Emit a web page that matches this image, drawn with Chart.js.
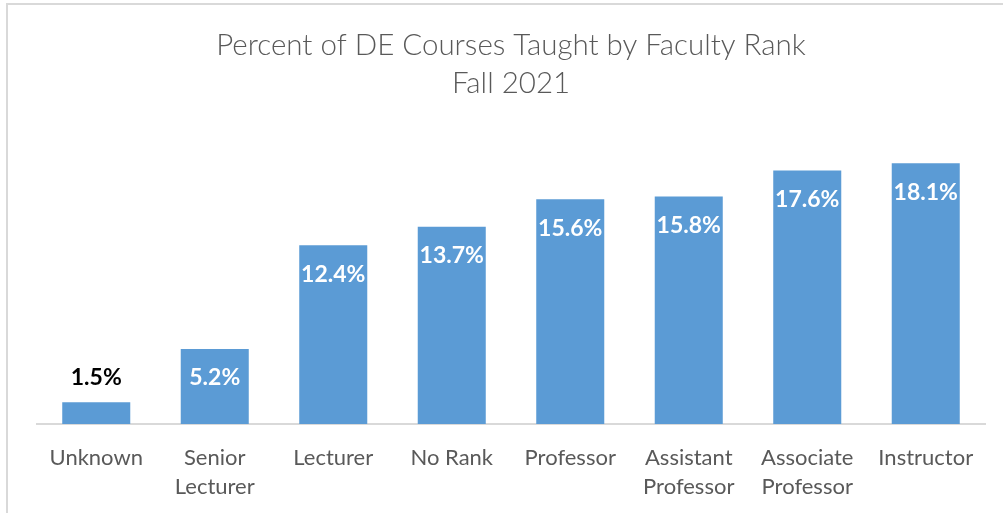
<!DOCTYPE html>
<html>
<head>
<meta charset="utf-8">
<script src="https://cdn.jsdelivr.net/npm/chart.js@4/dist/chart.umd.min.js"></script>
<style>
  html, body { margin: 0; padding: 0; background: #fff; }
  #wrap { position: relative; width: 1003px; height: 515px; }
  #frame { position: absolute; left: 6px; top: 3px; right: 0; height: 510px;
           border-top: 2px solid #D9D9D9; border-left: 2px solid #D9D9D9; box-sizing: border-box; }
  canvas { position: absolute; left: 0; top: 0; }
</style>
</head>
<body>
<div id="wrap">
  <div id="frame"></div>
  <canvas id="c" width="1003" height="515"></canvas>
</div>
<script>
const titleLines = ['Percent of DE Courses Taught by Faculty Rank', 'Fall 2021'];
const categories = [
  'Unknown',
  ['Senior', 'Lecturer'],
  'Lecturer',
  'No Rank',
  'Professor',
  ['Assistant', 'Professor'],
  ['Associate', 'Professor'],
  'Instructor'
];
const percentValues = [1.5, 5.2, 12.4, 13.7, 15.6, 15.8, 17.6, 18.1];

const FONT = 'Lato, "Open Sans", sans-serif';

const valueLabels = {
  id: 'valueLabels',
  afterDatasetsDraw(chart) {
    const ctx = chart.ctx;
    const meta = chart.getDatasetMeta(0);
    ctx.save();
    ctx.font = 'bold 23px ' + FONT;
    ctx.textAlign = 'center';
    ctx.textBaseline = 'middle';
    meta.data.forEach((bar, i) => {
      const v = chart.data.datasets[0].data[i];
      const text = v.toFixed(1) + '%';
      const h = bar.base - bar.y;
      if (h < 50) {
        ctx.fillStyle = '#000000';
        ctx.fillText(text, bar.x, bar.y - 25);
      } else {
        ctx.fillStyle = '#FFFFFF';
        ctx.fillText(text, bar.x, bar.y + 29);
      }
    });
    ctx.restore();
  }
};

new Chart(document.getElementById('c'), {
  type: 'bar',
  data: {
    labels: categories,
    datasets: [{
      data: percentValues,
      backgroundColor: '#5B9BD5',
      borderWidth: 0,
      categoryPercentage: 1.0,
      barPercentage: 0.574
    }]
  },
  options: {
    responsive: false,
    animation: false,
    devicePixelRatio: 1,
    layout: { padding: { left: 37, right: 18, top: 0, bottom: -5 } },
    plugins: {
      legend: { display: false },
      tooltip: { enabled: false },
      title: {
        display: true,
        text: titleLines,
        color: '#595959',
        font: { family: FONT, size: 29.5, weight: '300', lineHeight: 1.27 },
        padding: { top: 27, bottom: 34 }
      }
    },
    scales: {
      x: {
        grid: { display: false, drawTicks: false },
        border: { display: true, color: '#D9D9D9', width: 2 },
        ticks: {
          color: '#595959',
          font: { family: FONT, size: 22, lineHeight: 1.32 },
          padding: 19,
          maxRotation: 0,
          autoSkip: false
        }
      },
      y: {
        display: false,
        min: 0,
        max: 20
      }
    }
  },
  plugins: [valueLabels]
});
</script>
</body>
</html>
